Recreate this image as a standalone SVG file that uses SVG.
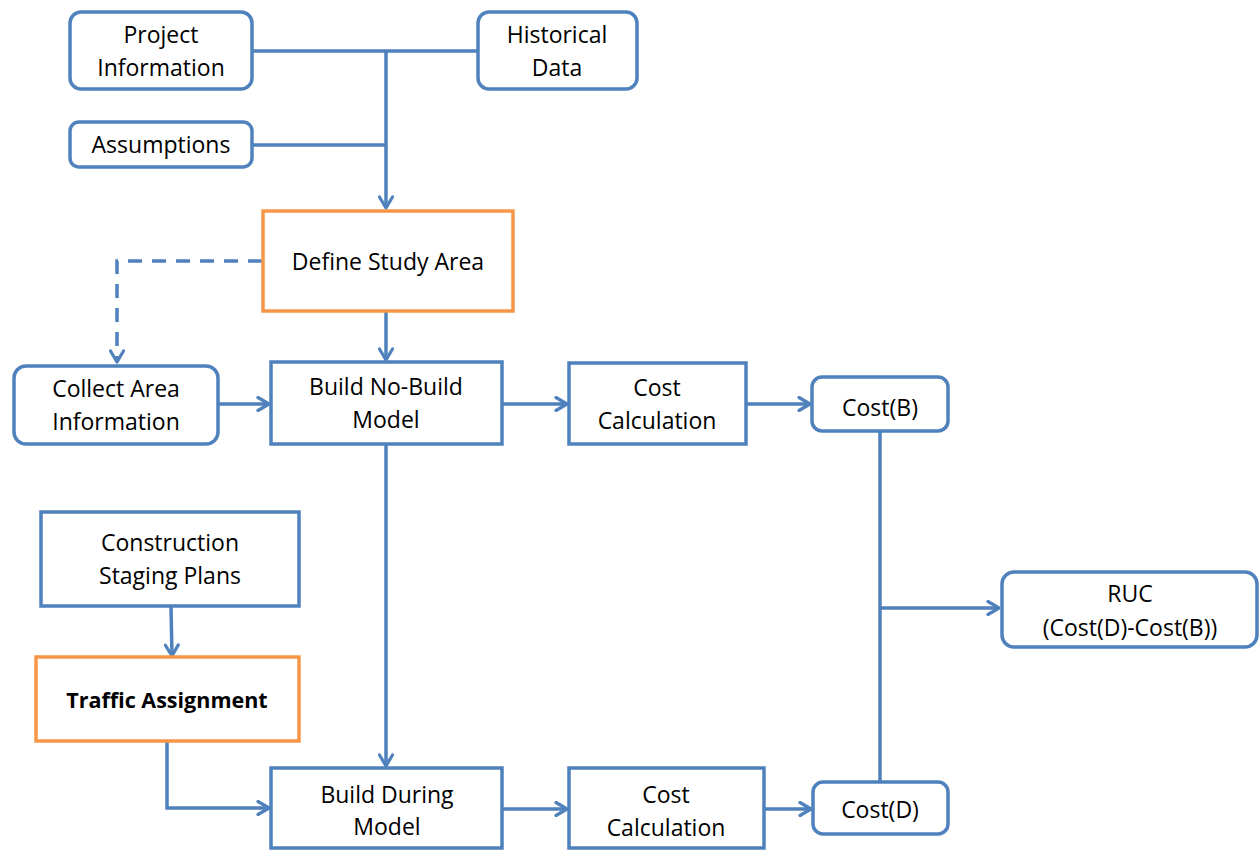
<svg xmlns="http://www.w3.org/2000/svg" width="1259" height="850" viewBox="0 0 1259 850">
<defs>
<marker id="arr" viewBox="0 0 16 16" refX="14" refY="8" markerWidth="16" markerHeight="16" markerUnits="userSpaceOnUse" orient="auto">
<path d="M3,1.5 L14,8 L3,14.5" fill="none" stroke="#4F81BD" stroke-width="3.2" stroke-linecap="round" stroke-linejoin="round"/>
</marker>
</defs>
<style>
.b{fill:#fff;stroke:#4F81BD;stroke-width:3.5}
.o{fill:#fff;stroke:#F79646;stroke-width:3.5}
.c{fill:none;stroke:#4F81BD;stroke-width:3.5}
text{font-family:"Open Sans","Liberation Sans",sans-serif;font-size:23px;fill:#000;text-anchor:middle}
.bold{font-weight:bold;font-size:21.5px}
</style>
<rect width="1259" height="850" fill="#fff"/>
<g id="connectors">
<path class="c" d="M252,51 H478"/>
<path class="c" d="M252,145 H386"/>
<path class="c" d="M386,51 V208" marker-end="url(#arr)"/>
<path class="c" d="M262,261 H117 V362" stroke-dasharray="14,10" marker-end="url(#arr)"/>
<path class="c" d="M386,312 V360" marker-end="url(#arr)"/>
<path class="c" d="M218,404 H269" marker-end="url(#arr)"/>
<path class="c" d="M502,404 H567" marker-end="url(#arr)"/>
<path class="c" d="M746,404 H810" marker-end="url(#arr)"/>
<path class="c" d="M880,431 V782"/>
<path class="c" d="M880,608 H999" marker-end="url(#arr)"/>
<path class="c" d="M386,444 V766" marker-end="url(#arr)"/>
<path class="c" d="M171,606 L172,656" marker-end="url(#arr)"/>
<path class="c" d="M167,741 V808 H269" marker-end="url(#arr)"/>
<path class="c" d="M502,809 H567" marker-end="url(#arr)"/>
<path class="c" d="M764,809 H811" marker-end="url(#arr)"/>
</g>
<g id="project"><rect class="b" x="70" y="12" width="182" height="77" rx="11"/><text x="161" y="43">Project</text><text x="161" y="76">Information</text></g>
<g id="historical"><rect class="b" x="478" y="12" width="159" height="77" rx="11"/><text x="557" y="43">Historical</text><text x="557" y="76">Data</text></g>
<g id="assumptions"><rect class="b" x="70" y="122" width="182" height="45" rx="9"/><text x="161" y="153">Assumptions</text></g>
<g id="define"><rect class="o" x="263" y="211" width="250" height="100"/><text x="388" y="270">Define Study Area</text></g>
<g id="collect"><rect class="b" x="14" y="366" width="204" height="78" rx="12"/><text x="116" y="397">Collect Area</text><text x="116" y="430">Information</text></g>
<g id="nobuild"><rect class="b" x="271" y="362" width="231" height="82"/><text x="386" y="395">Build No-Build</text><text x="386" y="428">Model</text></g>
<g id="costcalc1"><rect class="b" x="569" y="363" width="177" height="81"/><text x="657" y="396">Cost</text><text x="657" y="429">Calculation</text></g>
<g id="costb"><rect class="b" x="812" y="377" width="136" height="54" rx="10"/><text x="880" y="416">Cost(B)</text></g>
<g id="ruc"><rect class="b" x="1002" y="572" width="255" height="75" rx="12"/><text x="1130" y="602">RUC</text><text x="1130" y="636">(Cost(D)-Cost(B))</text></g>
<g id="staging"><rect class="b" x="41" y="512" width="258" height="94"/><text x="170" y="551">Construction</text><text x="170" y="584">Staging Plans</text></g>
<g id="traffic"><rect class="o" x="36" y="657" width="263" height="84"/><text class="bold" x="167" y="708">Traffic Assignment</text></g>
<g id="during"><rect class="b" x="271" y="768" width="231" height="80"/><text x="387" y="803">Build During</text><text x="387" y="835">Model</text></g>
<g id="costcalc2"><rect class="b" x="569" y="768" width="195" height="80"/><text x="666" y="803">Cost</text><text x="666" y="836">Calculation</text></g>
<g id="costd"><rect class="b" x="813" y="782" width="135" height="52" rx="10"/><text x="880" y="818">Cost(D)</text></g>
</svg>
